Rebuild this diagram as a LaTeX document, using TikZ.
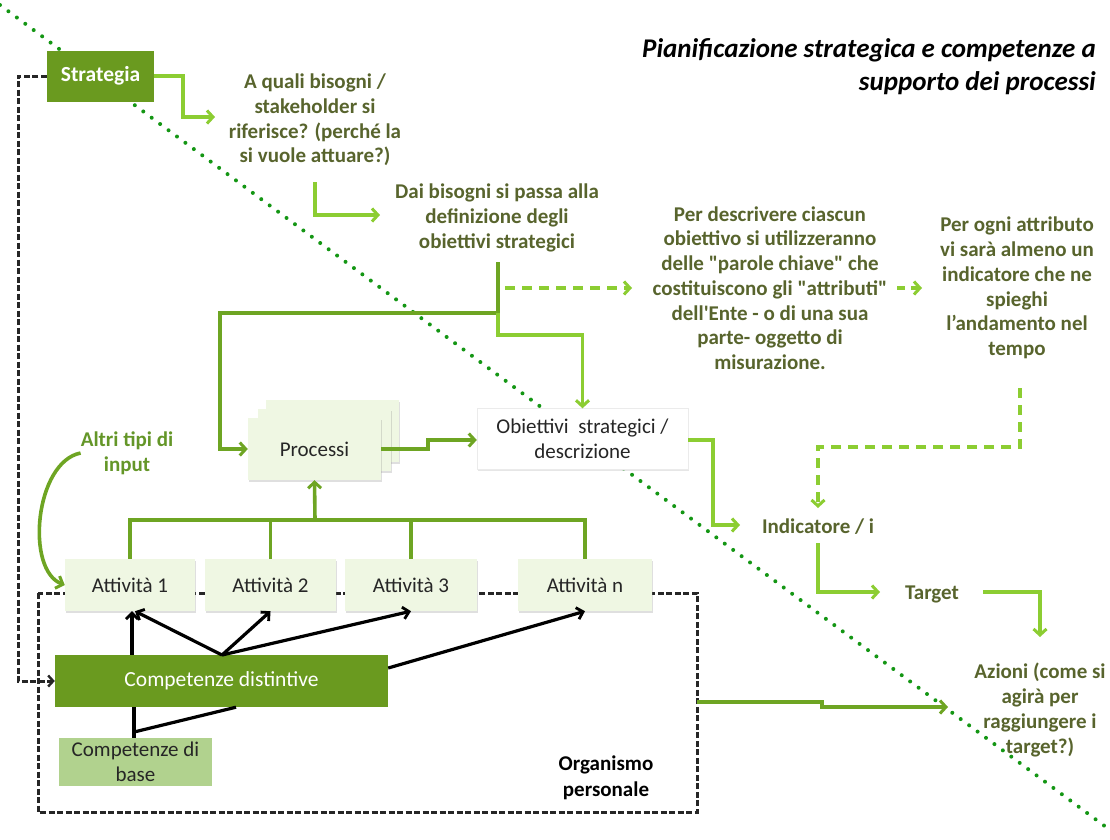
\documentclass[tikz,border=0pt]{standalone}
\usepackage{fontspec}
\setmainfont{Carlito}
\usetikzlibrary{arrows.meta,shadows,calc}
\definecolor{dkg}{RGB}{106,154,31}
\definecolor{lgr}{RGB}{140,205,50}
\definecolor{mgr}{RGB}{110,165,35}
\definecolor{olivetxt}{RGB}{88,100,45}
\definecolor{altritxt}{RGB}{100,150,40}
\definecolor{pale}{RGB}{239,247,227}
\definecolor{basefill}{RGB}{177,210,142}
\definecolor{dotg}{RGB}{20,150,20}
\begin{document}
\begin{tikzpicture}[x=1pt,y=-1pt,
  txt/.style={font=\fontsize{21}{24.7}\selectfont\bfseries, text=olivetxt, align=center, inner sep=0pt},
  pbox/.style={fill=pale, draw=none, drop shadow={opacity=0.25, shadow xshift=1pt, shadow yshift=-1.5pt}, font=\fontsize{21}{24}\selectfont, text=black!85, inner sep=0pt},
  tip/.style={-{Straight Barb[length=6pt,width=13pt,line width=3pt]}},
  lgline/.style={lgr, line width=3.6pt},
  mgline/.style={mgr, line width=3.6pt},
  blkarrow/.style={black, line width=3.2pt, -{Straight Barb[length=6pt,width=12pt,line width=2.8pt]}},
  blkdash/.style={black!85, line width=3pt, dash pattern=on 6pt off 2.5pt},
]
\useasboundingbox (0,0) rectangle (1110,839);

% dotted diagonal
\draw[dotg, line width=4pt, dash pattern=on 0pt off 10.5pt, line cap=round] (0,5) -- (1110,830);

% title
\node[anchor=east, align=right, inner sep=0pt, font=\fontsize{27}{33}\selectfont\bfseries\itshape] (title) at (1096,67) {Pianificazione strategica e competenze a\\supporto dei processi};

% Strategia
\node[fill=dkg, minimum width=107pt, minimum height=51pt, inner sep=0pt, text=white, font=\fontsize{21.5}{24}\selectfont\bfseries] (strat) at (100.5,76) {Strategia};

% texts
\node[txt] (q1) at (315,120) {A quali bisogni /\\stakeholder si\\riferisce? (perché la\\si vuole attuare?)};
\node[txt] (q2) at (497,218) {Dai bisogni si passa alla\\definizione degli\\obiettivi strategici};
\node[txt] (q3) at (770,288) {Per descrivere ciascun\\obiettivo si utilizzeranno\\delle \textquotedbl parole chiave\textquotedbl{} che\\costituiscono gli \textquotedbl attributi\textquotedbl\\dell\textquotesingle Ente - o di una sua\\parte- oggetto di\\misurazione.};
\node[txt] (q4) at (1017,288) {Per ogni attributo\\vi sarà almeno un\\indicatore che ne\\spieghi\\l’andamento nel\\tempo};
\node[txt] (ind) at (818,527) {Indicatore / i};
\node[txt] (tgt) at (932,594) {Target};
\node[txt] (az) at (1040,710) {Azioni (come si\\agirà per\\raggiungere i\\target?)};
\node[txt, text=altritxt] (altri) at (127,453) {Altri tipi di\\input};

% Processi stack
\node[pbox, minimum width=133pt, minimum height=62pt] (procb) at (332.5,431) {};
\node[pbox, minimum width=133pt, minimum height=62pt] (procm) at (324,440) {};
\node[pbox, minimum width=133pt, minimum height=62pt] (proc) at (314.5,449) {Processi};

% Obiettivi
\node[fill=white, draw=black!8, drop shadow={opacity=0.2, shadow xshift=1pt, shadow yshift=-1.5pt}, minimum width=211pt, minimum height=61pt, inner sep=0pt, align=center, font=\fontsize{21}{25}\selectfont, text=black!85] (obj) at (582.5,439) {Obiettivi\ \ strategici /\\descrizione};

% Organismo dashed box
\draw[blkdash] (38,593) rectangle (697,812);
\node[font=\fontsize{21}{26}\selectfont\bfseries, align=center, inner sep=0pt] (org) at (606,778) {Organismo\\personale};

% Attivita
\node[pbox, minimum width=130pt, minimum height=52pt] (a1) at (130,585) {Attività 1};
\node[pbox, minimum width=131pt, minimum height=52pt] (a2) at (270.5,585) {Attività 2};
\node[pbox, minimum width=132pt, minimum height=52pt] (a3) at (411,585) {Attività 3};
\node[pbox, minimum width=134pt, minimum height=52pt] (an) at (585,585) {Attività n};

% Competenze
\node[fill=dkg, minimum width=333pt, minimum height=52pt, inner sep=0pt, text=white, font=\fontsize{21.5}{24}\selectfont] (cd) at (221.5,681) {Competenze distintive};
\node[fill=basefill, minimum width=153pt, minimum height=48pt, inner sep=0pt, align=center, font=\fontsize{21}{25}\selectfont, text=black!85] (cb) at (135.5,762) {Competenze di\\base};

% ---- connectors ----
\coordinate (q1in) at (215,117);
\coordinate (q1out) at (315,182);
\coordinate (q2in) at (380,215);
\coordinate (q2out) at (498,262);
\coordinate (split) at (498,313);
\draw[lgline, tip] (strat.east) -- (183,76) |- (q1in);
\draw[lgline, tip] (q1out) |- (q2in);
\draw[mgline] (q2out) -- (split);
\draw[mgline, tip] (split) -- (220,313) |- (proc.west);
\draw[lgline, tip] (split) -- (498,335) -| (obj.north);

\coordinate (d1s) at (505,288); \coordinate (d1e) at (632,288);
\coordinate (d2s) at (897,288); \coordinate (d2e) at (922,288);
\draw[lgline, dash pattern=on 10pt off 7pt, tip] (d1s) -- (d1e);
\draw[lgline, dash pattern=on 8pt off 6pt, tip] (d2s) -- (d2e);
\coordinate (q4out) at (1020,388);
\coordinate (indin) at (818,508);
\draw[lgline, dash pattern=on 10pt off 7pt, tip] (q4out) -- (1020,447) -| (indin);

\draw[mgline, tip] (proc.east |- 0,449) -- (428,449) -- (428,440) -- (obj.west |- 0,440);
\coordinate (indl) at (740,525);
\draw[lgline, tip] (obj.east |- 0,440) -- (713,440) |- (indl);
\coordinate (indout) at (818,543);
\coordinate (tgtin) at (880,592);
\draw[lgline, tip] (indout) |- (tgtin);
\coordinate (tgtout) at (983,592);
\coordinate (azin) at (1040,637);
\draw[lgline, tip] (tgtout) -| (azin);
\coordinate (orgout) at (697,702);
\coordinate (azl) at (948,707);
\draw[mgline, tip] (orgout) -- (822,702) -- (822,707) -- (azl);

% bus
\draw[mgline] (a1.north) -- (130,520) -- (585,520) -- (an.north);
\draw[mgline] (a2.north) -- (a2.north |- 0,520);
\draw[mgline] (a3.north) -- (a3.north |- 0,520);
\draw[mgline, tip] (315,520) -- (proc.south);

% altri curve
\draw[mgline, tip] (altri.west) .. controls (35,462) and (25,570) .. (a1.west);

% dashed strategia
\draw[blkdash, -{Straight Barb[length=5pt,width=11pt,line width=2.4pt]}] (strat.west) -- (18,76) |- (cd.west);

% black arrows
\coordinate (hub) at (222,655);
\draw[blkarrow] (cd.north -| 132,0) -- (a1.south -| 132,0);
\draw[blkarrow] (hub) -- (a1.south -| 135,0);
\draw[blkarrow] (hub) -- (a2.south);
\draw[blkarrow] (hub) -- (a3.south);
\draw[blkarrow] (cd.east |- 0,668) -- (an.south);
\draw[black, line width=3.2pt] (cb.north -| 134,0) -- (cd.south -| 134,0);
\draw[black, line width=3.2pt] (134,732) -- (cd.south -| 236,0);
\end{tikzpicture}
\end{document}
